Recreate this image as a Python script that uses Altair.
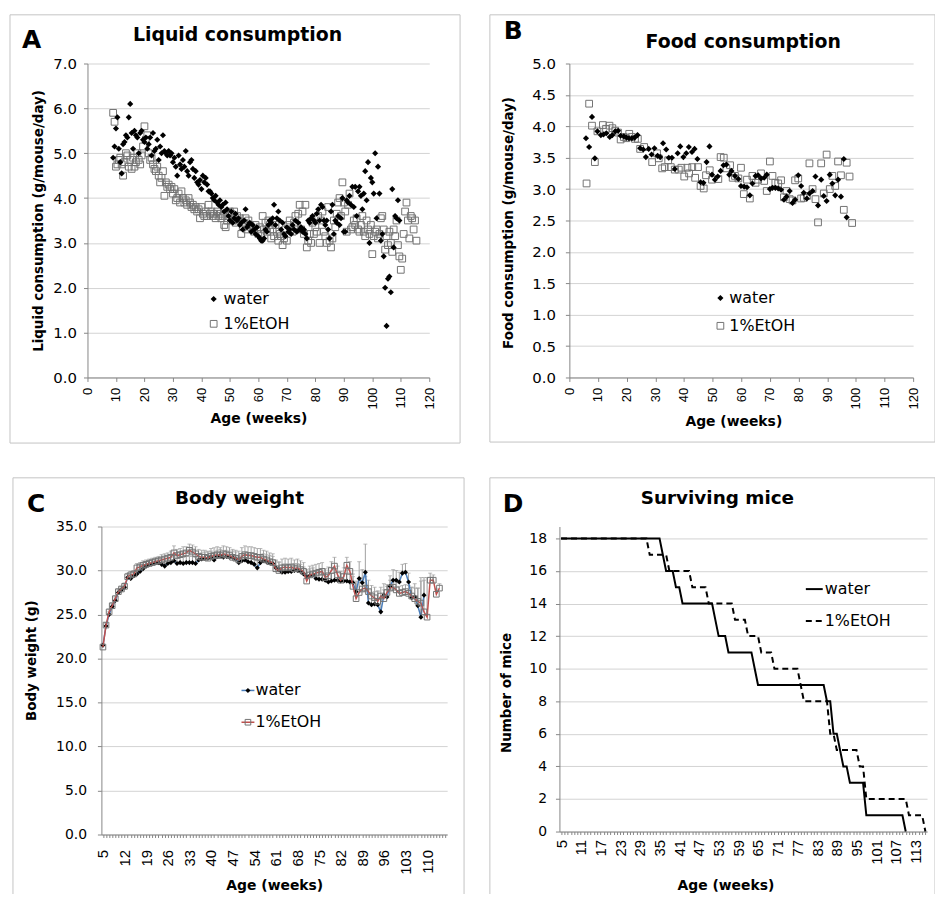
import altair as alt
import pandas as pd

FONT = "DejaVu Sans"
FONT_ROT = "Liberation Sans"
GRID = "#d3d3d3"
AXIS_C = "#868686"
FRAME = "#c4c4c4"

panel_letters = ["A", "B", "C", "D"]
panel_titles = ["Liquid consumption", "Food consumption", "Body weight", "Surviving mice"]
x_title = "Age (weeks)"
y_titles = ["Liquid consumption  (g/mouse/day)", "Food consumption (g/mouse/day)",
            "Body weight  (g)", "Number of mice"]
series_names = ["water", "1%EtOH"]

# ---------------- Panel A: liquid consumption (half-week readings) ----------------
a_start = 9.0
a_step = 0.5
a_water = [
    4.9, 5.15, 5.55, 5.8, 5.1, 4.8, 4.55, 5.2, 5.25, 5.4,
    5.35, 5.8, 6.1, 5.45, 5.1, 5.5, 5.4, 5.35, 5.0, 5.45,
    5.5, 5.3, 5.25, 5.35, 5.1, 5.2, 5.35, 4.95, 5.45, 5.05,
    5.1, 5.3, 4.85, 5.15, 5.0, 5.4, 5.05, 5.0, 4.95, 5.05,
    4.95, 5.0, 4.8, 4.9, 4.7, 4.5, 4.95, 4.75, 4.65, 4.85,
    4.7, 5.05, 4.6, 4.5, 4.8, 4.85, 4.65, 4.45, 4.6, 4.35,
    4.3, 4.4, 4.2, 4.5, 4.35, 4.45, 4.3, 4.15, 4.15, 4.1,
    4.0, 3.95, 4.05, 3.9, 3.85, 3.95, 3.8, 3.85, 3.7, 3.9,
    3.75, 3.6, 3.5, 3.7, 3.45, 3.55, 3.65, 3.5, 3.55, 3.4,
    3.45, 3.3, 3.5, 3.75, 3.35, 3.4, 3.45, 3.25, 3.4, 3.3,
    3.2, 3.35, 3.15, 3.1, 3.05, 3.05, 3.1, 3.3, 3.25, 3.4,
    3.5, 3.45, 3.55, 3.85, 3.4, 3.55, 3.7, 3.5, 3.3, 3.45,
    3.2, 3.15, 3.35, 3.25, 3.3, 3.2, 3.4, 3.3, 3.5, 3.25,
    3.45, 3.3, 3.35, 3.25, 3.3, 3.2, 3.1, 3.5, 3.45, 3.55,
    3.6, 3.5, 3.45, 3.65, 3.75, 3.5, 3.85, 3.8, 3.5, 3.4,
    3.5, 3.3, 3.1, 3.7, 3.85, 3.2, 3.5, 3.45, 3.6, 3.4,
    3.55, 4.0, 3.25, 3.25, 3.95, 3.9, 4.05, 3.85, 4.25, 3.8,
    4.25, 3.6, 4.15, 4.25, 4.05, 3.75, 4.1, 4.6, 3.95, 4.8,
    3.0, 4.45, 4.35, 4.1, 5.0, 3.55, 4.7, 4.1, 3.05, 3.2,
    2.7, 2.0, 1.15, 2.2, 2.25, 1.9, 4.2, 2.9, 3.6, 3.55,
    3.95, 3.5,
]
a_etoh = [
    5.9, 5.7, 4.7, 4.75, 4.85, 4.9, 4.75, 4.5, 4.8, 5.0,
    4.95, 4.7, 4.85, 4.65, 4.9, 4.7, 4.8, 5.0, 4.85, 4.75,
    4.95, 5.15, 5.6, 5.3, 5.4, 5.0, 4.85, 4.9, 4.75, 4.65,
    4.6, 4.7, 4.5, 4.35, 4.45, 4.6, 4.05, 4.35, 4.25, 4.3,
    4.2, 4.25, 4.1, 4.2, 3.95, 4.0, 4.1, 3.9, 4.15, 4.0,
    3.9, 3.95, 3.85, 4.0, 3.9, 3.8, 3.85, 3.75, 3.8, 3.7,
    3.75, 3.55, 3.8, 3.65, 3.6, 3.7, 3.6, 3.85, 3.65, 3.7,
    3.6, 3.65, 3.55, 3.7, 3.6, 3.65, 3.55, 3.6, 3.4, 3.35,
    3.5, 3.6, 3.7, 3.65, 3.5, 3.7, 3.45, 3.6, 3.5, 3.55,
    3.2, 3.35, 3.45, 3.55, 3.3, 3.5, 3.4, 3.35, 3.3, 3.25,
    3.4, 3.3, 3.2, 3.35, 3.2, 3.6, 3.3, 3.45, 3.25, 3.5,
    3.4, 3.1, 3.3, 3.15, 3.4, 3.25, 3.05, 3.2, 3.15, 2.95,
    3.1, 3.3, 3.05, 3.4, 3.5, 3.3, 3.25, 3.45, 3.6, 3.4,
    3.65, 3.85, 3.3, 3.7, 3.2, 3.85, 2.9, 3.05, 3.2, 3.0,
    3.45, 3.2, 3.35, 3.25, 3.6, 3.0, 3.5, 3.7, 3.25, 3.15,
    3.0, 3.8, 3.05, 2.9, 3.1, 3.5, 3.35, 3.65, 3.9, 4.0,
    3.6, 4.35, 3.9, 3.7, 3.25, 3.85, 4.1, 3.3, 3.35, 3.5,
    3.4, 3.55, 3.3, 3.25, 3.4, 3.6, 3.25, 3.15, 3.5, 3.3,
    3.2, 3.4, 2.75, 3.15, 3.25, 3.3, 3.1, 3.2, 3.55, 3.6,
    3.3, 2.85, 3.15, 2.95, 3.25, 3.0, 2.8, 3.3, 3.15, 3.5,
    2.95, 2.7, 2.4, 2.65, 3.2, 3.7, 3.9, 3.5, 3.1, 3.6,
    3.55, 3.3, 3.5, 3.05,
]

# ---------------- Panel B: food consumption ----------------
b_water_age = [
    5.8, 6.9, 7.9, 8.9, 9.8, 11.0, 11.9, 12.9, 14.1, 15.0,
    16.0, 17.0, 17.9, 19.0, 19.9, 20.8, 21.8, 22.8, 23.8, 24.7,
    25.8, 26.7, 27.7, 28.7, 29.7, 30.8, 31.7, 32.7, 33.8, 34.7,
    35.8, 36.8, 37.8, 38.7, 39.8, 40.8, 41.7, 42.8, 43.7, 44.7,
    45.8, 46.8, 47.9, 48.9, 49.8, 50.8, 51.8, 52.8, 53.8, 54.8,
    55.8, 56.6, 57.8, 59.0, 59.9, 61.0, 62.0, 63.0, 63.9, 65.0,
    65.9, 66.9, 68.0, 68.9, 70.0, 70.9, 71.9, 72.9, 73.9, 74.9,
    75.8, 76.9, 77.9, 78.8, 79.9, 80.9, 81.8, 82.9, 83.8, 84.9,
    85.9, 86.8, 87.9, 88.8, 89.8, 90.9, 91.8, 92.8, 93.8, 94.8,
    95.8, 96.8,
]
b_water = [
    3.81, 3.67, 4.15, 3.49, 3.92, 3.86, 3.87, 3.89, 3.83, 3.86,
    3.92, 3.93, 3.85, 3.84, 3.82, 3.81, 3.81, 3.82, 3.86, 3.65,
    3.63, 3.51, 3.64, 3.55, 3.65, 3.53, 3.51, 3.73, 3.63, 3.50,
    3.50, 3.32, 3.57, 3.68, 3.51, 3.57, 3.67, 3.59, 3.64, 3.48,
    3.11, 3.10, 3.43, 3.68, 3.23, 3.15, 3.20, 3.29, 3.38, 3.39,
    3.23, 3.29, 3.21, 3.16, 3.05, 3.04, 3.03, 2.90, 3.09, 3.21,
    3.22, 3.17, 3.18, 3.23, 3.00, 3.02, 3.02, 3.01, 2.99, 2.83,
    2.88, 2.97, 2.78, 2.83, 3.22, 3.05, 2.94, 2.85, 2.93, 2.97,
    3.20, 2.74, 3.15, 2.89, 2.81, 3.23, 3.09, 2.90, 3.15, 2.88,
    3.48, 2.55,
]
b_etoh_age = [
    6.0, 6.9, 7.9, 8.9, 9.8, 11.7, 12.8, 14.0, 15.0, 16.0,
    17.0, 17.9, 19.0, 19.9, 20.9, 21.8, 22.9, 23.9, 24.7, 26.1,
    28.9, 30.6, 31.2, 32.4, 33.3, 34.5, 35.4, 36.8, 38.2, 39.1,
    40.1, 41.2, 41.8, 42.9, 43.9, 44.9, 45.8, 46.9, 47.7, 49.0,
    49.8, 52.0, 52.8, 53.9, 54.8, 56.1, 57.0, 57.8, 59.0, 59.9,
    60.9, 62.0, 63.0, 63.9, 65.0, 65.9, 66.9, 68.0, 68.9, 70.0,
    70.9, 71.9, 72.9, 73.9, 74.9, 75.8, 76.9, 77.9, 78.8, 79.9,
    80.9, 81.8, 82.9, 83.8, 84.9, 85.9, 86.8, 87.9, 88.8, 89.8,
    90.9, 91.8, 92.8, 93.8, 94.8, 95.8, 96.8, 97.8, 98.7,
]
b_etoh = [
    3.09, 4.36, 4.01, 3.43, 3.92, 4.02, 3.96, 4.01, 3.97, 3.93,
    3.90, 3.79, 3.83, 3.81, 3.88, 3.83, 3.80, 3.80, 3.64, 3.67,
    3.43, 3.57, 3.49, 3.33, 3.35, 3.46, 3.35, 3.31, 3.31, 3.34,
    3.20, 3.34, 3.25, 3.35, 3.18, 3.35, 3.05, 3.01, 3.22, 3.30,
    3.15, 3.16, 3.51, 3.50, 3.33, 3.38, 3.18, 3.21, 3.17, 3.34,
    2.92, 3.15, 2.85, 3.21, 3.10, 3.15, 3.25, 3.13, 2.97, 3.44,
    3.21, 3.10, 3.09, 3.14, 2.87, 2.97, 2.84, 2.82, 3.14, 3.17,
    2.85, 2.86, 2.89, 3.41, 3.00, 2.84, 2.47, 3.41, 2.93, 3.55,
    3.00, 3.21, 3.05, 3.44, 3.22, 2.67, 3.42, 3.20, 2.46,
]

# ---------------- Panel C: body weight (weekly, from week 5) ----------------
c_first_week = 5
c_water = [
    21.5, 23.7, 25.0, 25.9, 26.6, 27.5, 27.8, 28.1, 29.2, 29.1,
    29.4, 29.6, 29.9, 30.2, 30.5, 30.7, 30.8, 30.9, 30.9, 30.7,
    30.5, 30.8, 30.9, 31.1, 30.8, 30.9, 30.8, 30.9, 30.9, 30.9,
    30.8, 31.2, 31.3, 31.4, 31.4, 31.5, 31.2, 31.6, 31.7, 31.5,
    31.6, 31.5, 31.5, 31.3, 30.9, 31.1, 31.2, 31.0, 30.9, 30.7,
    30.3, 30.9, 31.1, 31.0, 30.9, 30.8, 30.3, 30.1, 29.8, 29.8,
    29.9, 29.9, 30.0, 30.0, 29.9, 29.6, 29.3, 29.4, 29.5, 29.1,
    29.0, 29.0, 28.9, 28.7, 28.8, 28.9, 28.9, 28.8, 28.8, 28.8,
    28.7, 28.6, 27.6, 29.1, 28.6, 29.8, 26.3, 26.1, 26.2, 26.1,
    25.3, 27.2, 27.0, 28.2, 28.9, 28.9, 28.7, 29.7, 29.8, 28.7,
    26.9, 27.0, 26.0, 24.7, 27.2,
]
c_water_err = [
    0.2, 0.3, 0.3, 0.3, 0.3, 0.3, 0.3, 0.3, 0.4, 0.4,
    0.4, 0.4, 0.4, 0.5, 0.5, 0.5, 0.5, 0.5, 0.5, 0.6,
    0.6, 0.6, 0.6, 0.7, 0.7, 0.7, 0.7, 0.7, 0.7, 0.7,
    0.7, 0.7, 0.7, 0.7, 0.7, 0.7, 0.7, 0.7, 0.7, 0.7,
    0.7, 0.7, 0.7, 0.8, 0.8, 0.8, 0.8, 0.8, 0.8, 0.8,
    0.8, 0.8, 0.8, 0.8, 0.8, 0.8, 0.8, 0.8, 0.8, 0.8,
    0.8, 0.8, 0.8, 0.8, 0.8, 0.8, 0.8, 0.8, 0.8, 0.8,
    0.8, 0.8, 0.8, 0.9, 0.9, 0.9, 0.9, 0.9, 0.9, 0.9,
    1.0, 1.0, 1.2, 1.9, 1.5, 3.2, 1.5, 1.4, 1.4, 1.5,
    1.6, 1.3, 1.2, 1.2, 1.2, 1.1, 1.1, 1.0, 1.0, 1.0,
    1.2, 1.5, 2.0, 4.5, 2.0,
]
c_etoh = [
    21.3, 23.8, 25.3, 26.0, 26.8, 27.6, 27.9, 28.2, 29.3, 29.5,
    29.6, 30.3, 30.4, 30.6, 30.7, 30.8, 30.9, 31.0, 31.1, 31.2,
    31.3, 31.4, 31.5, 32.0, 31.7, 31.8, 31.9, 32.0, 32.3, 32.1,
    31.9, 31.6, 31.5, 31.5, 31.4, 31.6, 31.7, 31.8, 31.7, 31.9,
    31.8, 31.7, 31.5, 31.4, 31.2, 31.6, 31.8, 31.7, 31.7, 31.6,
    31.5, 31.5, 31.3, 31.2, 31.0, 30.9, 30.2, 30.0, 30.3, 30.4,
    30.3, 30.4, 30.2, 30.3, 30.1, 29.9, 28.8, 29.5, 29.6, 29.7,
    29.8, 29.9, 29.2, 29.4, 30.0, 30.5, 29.5, 28.9, 29.3, 30.6,
    29.9, 28.2, 26.8, 27.5, 27.9, 28.0, 27.6, 27.1, 26.9, 26.5,
    27.1, 26.8, 27.5, 28.0, 28.1, 27.8, 27.4, 27.5, 27.6, 27.4,
    27.1, 26.8, 26.5, 26.3, 25.3, 24.7, 28.9, 28.9, 27.3, 28.0,
]
c_etoh_err = [
    0.2, 0.3, 0.3, 0.3, 0.3, 0.3, 0.3, 0.4, 0.4, 0.4,
    0.4, 0.5, 0.5, 0.5, 0.5, 0.5, 0.5, 0.5, 0.5, 0.6,
    0.6, 0.6, 0.7, 0.8, 0.7, 0.7, 0.8, 0.7, 0.7, 0.8,
    0.8, 0.8, 0.8, 0.8, 0.8, 0.9, 0.9, 0.9, 0.9, 0.9,
    0.9, 0.9, 0.9, 0.9, 1.0, 1.0, 1.0, 1.0, 1.0, 1.0,
    1.0, 1.0, 1.0, 1.0, 1.0, 1.0, 1.0, 1.0, 1.0, 1.0,
    1.0, 1.0, 1.0, 1.0, 1.0, 1.0, 1.0, 1.0, 1.0, 1.0,
    1.0, 1.0, 1.0, 1.0, 1.0, 1.0, 1.0, 1.0, 1.0, 0.9,
    1.1, 1.1, 1.2, 1.2, 1.3, 1.3, 1.3, 1.2, 1.2, 1.2,
    1.0, 1.0, 0.9, 0.9, 0.9, 0.8, 0.8, 0.8, 0.8, 0.9,
    1.0, 1.2, 1.5, 2.5, 3.6, 4.5, 0.8, 0.6, 0.6, 0.5,
]

# ---------------- Panel D: surviving mice (weeks where the count changes) ----------------
d_water_age = [5, 35, 36, 37, 39, 40, 41, 42, 51, 52, 53, 55, 56, 63, 64, 65, 85, 86, 87,
               88, 89, 90, 91, 92, 93, 97, 98, 109, 110]
d_water = [18, 18, 17, 16, 16, 15, 15, 14, 14, 13, 12, 12, 11, 11, 10, 9, 9, 8, 8,
           6, 6, 5, 4, 4, 3, 3, 1, 1, 0]
d_etoh_age = [5, 31, 32, 37, 38, 44, 45, 49, 50, 57, 58, 61, 62, 65, 66, 69, 70, 77, 79,
              86, 87, 88, 89, 95, 96, 97, 98, 110, 111, 115, 116]
d_etoh = [18, 18, 17, 17, 16, 16, 15, 15, 14, 14, 13, 13, 12, 12, 11, 11, 10, 10, 8,
          8, 6, 6, 5, 5, 4, 4, 2, 2, 1, 1, 0]

# ---------------- data frames ----------------
df_a_w = pd.DataFrame({"age": [a_start + a_step * i for i in range(len(a_water))], "value": a_water})
df_a_e = pd.DataFrame({"age": [a_start + a_step * i for i in range(len(a_etoh))], "value": a_etoh})
df_b_w = pd.DataFrame({"age": b_water_age, "value": b_water})
df_b_e = pd.DataFrame({"age": b_etoh_age, "value": b_etoh})
df_c_w = pd.DataFrame({"age": [c_first_week + i for i in range(len(c_water))], "value": c_water,
                       "upper": [v + e for v, e in zip(c_water, c_water_err)]})
df_c_e = pd.DataFrame({"age": [c_first_week + i for i in range(len(c_etoh))], "value": c_etoh,
                       "upper": [v + e for v, e in zip(c_etoh, c_etoh_err)]})
df_d_w = pd.DataFrame({"age": d_water_age, "value": d_water})
df_d_e = pd.DataFrame({"age": d_etoh_age, "value": d_etoh})

one = pd.DataFrame({"k": [0]})


def text(label, x, y, size, bold=False, align="left", baseline="alphabetic"):
    return alt.Chart(pd.DataFrame({"label": [label]})).mark_text(
        font=FONT, fontSize=size, fontWeight="bold" if bold else "normal",
        align=align, baseline=baseline, color="black"
    ).encode(x=alt.value(x), y=alt.value(y), text="label:N")


def frame(x1, x2, y1, y2):
    return alt.Chart(one).mark_rect(fillOpacity=0, stroke=FRAME, strokeWidth=1).encode(
        x=alt.value(x1), x2=alt.value(x2), y=alt.value(y1), y2=alt.value(y2))


def hrule(x1, x2, y, color, width=1.5, dash=None):
    kw = dict(color=color, strokeWidth=width)
    if dash:
        kw["strokeDash"] = dash
    return alt.Chart(one).mark_rule(**kw).encode(x=alt.value(x1), x2=alt.value(x2), y=alt.value(y))


def marker(x, y, shape, size, filled, color):
    if filled:
        m = alt.Chart(one).mark_point(shape=shape, size=size, filled=True, color=color, opacity=1)
    else:
        m = alt.Chart(one).mark_point(shape=shape, size=size, filled=False, stroke=color,
                                      strokeWidth=1, opacity=1)
    return m.encode(x=alt.value(x), y=alt.value(y))


def x_axis(values, label_size, label_pad, tick_size, title_x, title_y, label_expr=None):
    kw = dict(values=values, title=x_title, grid=False, labelAngle=270, labelFont=FONT_ROT,
              labelFontSize=label_size, labelColor="black", labelPadding=label_pad,
              labelOverlap=False, labelFlush=False, ticks=True, tickSize=tick_size,
              tickColor=AXIS_C, domainColor=AXIS_C, titleFont=FONT, titleFontSize=14,
              titleFontWeight="bold", titleColor="black", titleX=title_x, titleY=title_y,
              titleAlign="center", titleBaseline="alphabetic", format="d")
    if label_expr:
        kw["labelExpr"] = label_expr
    return alt.Axis(**kw)


def y_axis(values, fmt, label_size, label_pad, title, title_x, title_y, offset=0):
    return alt.Axis(values=values, format=fmt, title=title, grid=True, gridColor=GRID,
                    domainColor=AXIS_C, tickColor=AXIS_C, tickSize=4, labelFont=FONT,
                    labelFontSize=label_size, labelColor="black", labelPadding=label_pad,
                    titleFont=FONT, titleFontSize=13.5, titleFontWeight="bold",
                    titleColor="black", titleAngle=270, titleAlign="center",
                    titleBaseline="middle", titleX=title_x, titleY=title_y, offset=offset)


SQ_COLOR = "#737373"
SQ_SIZE = 46
DIA_SIZE = 38

# ---------------- Panel A ----------------
xa = alt.X("age:Q", scale=alt.Scale(domain=[0, 120], nice=False, zero=False),
           axis=x_axis(list(range(0, 121, 10)), 13, 6, 4, 172, 45))
ya = alt.Y("value:Q", scale=alt.Scale(domain=[0, 7], nice=False),
           axis=y_axis([0, 1, 2, 3, 4, 5, 6, 7], ".1f", 15, 7, y_titles[0], -49.5, 158))
panel_a = alt.layer(
    frame(-78, 375, -49, 382),
    alt.Chart(df_a_e).mark_point(shape="square", size=SQ_SIZE, filled=False, stroke=SQ_COLOR,
                                 strokeWidth=1, opacity=1).encode(x=xa, y=ya),
    alt.Chart(df_a_w).mark_point(shape="diamond", size=DIA_SIZE, filled=True, color="black",
                                 opacity=1).encode(x=xa, y=ya),
    text(panel_letters[0], -66, -16, 25, bold=True),
    text(panel_titles[0], 151, -23, 19, bold=True, align="center"),
    marker(127, 237, "diamond", DIA_SIZE, True, "black"),
    marker(127, 262, "square", SQ_SIZE, False, SQ_COLOR),
    text(series_names[0], 137, 237, 16, baseline="middle"),
    text(series_names[1], 137, 262, 16, baseline="middle"),
).properties(width=344, height=316)

# ---------------- Panel B (view starts 10px left of its y axis) ----------------
xb = alt.X("age:Q", scale=alt.Scale(domain=[0, 120], range=[10, 356], nice=False, zero=False),
           axis=x_axis(list(range(0, 121, 10)), 13, 6, 4, 175, 48))
yb = alt.Y("value:Q", scale=alt.Scale(domain=[0, 5], nice=False),
           axis=y_axis([0, 0.5, 1, 1.5, 2, 2.5, 3, 3.5, 4, 4.5, 5], ".1f", 15, 10,
                       y_titles[1], -61, 160, offset=-10))
panel_b = alt.layer(
    frame(-70, 378, -49, 381),
    alt.Chart(df_b_e).mark_point(shape="square", size=SQ_SIZE, filled=False, stroke=SQ_COLOR,
                                 strokeWidth=1, opacity=1).encode(x=xb, y=yb),
    alt.Chart(df_b_w).mark_point(shape="diamond", size=DIA_SIZE, filled=True, color="black",
                                 opacity=1).encode(x=xb, y=yb),
    text(panel_letters[1], -56, -25, 25, bold=True),
    text(panel_titles[1], 185, -16, 19, bold=True, align="center"),
    marker(162, 236, "diamond", DIA_SIZE, True, "black"),
    marker(162, 264, "square", SQ_SIZE, False, SQ_COLOR),
    text(series_names[0], 171, 236, 16, baseline="middle"),
    text(series_names[1], 171, 264, 16, baseline="middle"),
).properties(width=356, height=316)

# ---------------- Panel C (view starts 14px left of its y axis) ----------------
weeks_all = list(range(5, 117))
xc = alt.X("age:Q", scale=alt.Scale(domain=[4.5, 116.5], range=[14, 362], nice=False, zero=False),
           axis=x_axis(weeks_all, 15, 12, 3, 188, 55,
                       label_expr="(datum.value - 5) % 7 == 0 ? datum.label : ''"))
yc = alt.Y("value:Q", scale=alt.Scale(domain=[0, 35], nice=False),
           axis=y_axis([0, 5, 10, 15, 20, 25, 30, 35], ".1f", 14, 11, y_titles[2], -70, 134.5,
                       offset=-14))
BLUE = "#4a7ebb"
RED = "#c0504d"
ERR = "#a0a0a0"
panel_c = alt.layer(
    frame(-75, 379, -49, 380),
    alt.Chart(df_c_w).mark_rule(color=ERR, strokeWidth=1).encode(x=xc, y=yc, y2="upper:Q"),
    alt.Chart(df_c_e).mark_rule(color=ERR, strokeWidth=1).encode(x=xc, y=yc, y2="upper:Q"),
    alt.Chart(df_c_w).mark_tick(orient="horizontal", size=4, thickness=1, color=ERR).encode(
        x=xc, y=alt.Y("upper:Q")),
    alt.Chart(df_c_e).mark_tick(orient="horizontal", size=4, thickness=1, color=ERR).encode(
        x=xc, y=alt.Y("upper:Q")),
    alt.Chart(df_c_w).mark_line(color=BLUE, strokeWidth=1.5).encode(x=xc, y=yc),
    alt.Chart(df_c_w).mark_point(shape="diamond", size=26, filled=True, color="black",
                                 opacity=1).encode(x=xc, y=yc),
    alt.Chart(df_c_e).mark_line(color=RED, strokeWidth=1.5).encode(x=xc, y=yc),
    alt.Chart(df_c_e).mark_point(shape="square", size=32, filled=False, stroke=SQ_COLOR,
                                 strokeWidth=1, opacity=1).encode(x=xc, y=yc),
    text(panel_letters[2], -61, -15, 25, bold=True),
    text(panel_titles[2], 153, -23, 18.5, bold=True, align="center"),
    hrule(155, 168, 165, BLUE),
    marker(161.5, 165, "diamond", 26, True, "black"),
    hrule(155, 168, 197, RED),
    marker(161.5, 197, "square", 32, False, SQ_COLOR),
    text(series_names[0], 169, 165, 16, baseline="middle"),
    text(series_names[1], 169, 197, 16, baseline="middle"),
).properties(width=362, height=310)

# ---------------- Panel D ----------------
xd = alt.X("age:Q", scale=alt.Scale(domain=[4.5, 116.5], nice=False, zero=False),
           axis=x_axis(weeks_all, 15, 5, 3, 167, 58,
                       label_expr="(datum.value - 5) % 6 == 0 ? datum.label : ''"))
yd = alt.Y("value:Q", scale=alt.Scale(domain=[0, 18.73], nice=False),
           axis=y_axis(list(range(0, 19, 2)), "d", 14, 9, y_titles[3], -53.7, 167))
panel_d = alt.layer(
    frame(-70, 378, -49, 380),
    alt.Chart(df_d_e).mark_line(color="black", strokeWidth=2, strokeDash=[6, 4]).encode(x=xd, y=yd),
    alt.Chart(df_d_w).mark_line(color="black", strokeWidth=2).encode(x=xd, y=yd),
    text(panel_letters[3], -57, -15, 25, bold=True),
    text(panel_titles[3], 159, -23, 18.5, bold=True, align="center"),
    hrule(248, 265, 63, "black", 2),
    hrule(248, 265, 95, "black", 2, dash=[6, 4]),
    text(series_names[0], 267, 63, 16, baseline="middle"),
    text(series_names[1], 267, 95, 16, baseline="middle"),
).properties(width=370, height=307)

chart = alt.concat(panel_a, panel_b, panel_c, panel_d, columns=2,
                   spacing={"row": 150, "column": 113}, bounds="flush").properties(
    autosize=alt.AutoSizeParams(type="none"),
    padding={"left": 80, "top": 53, "right": 853, "bottom": 833},
    background="white",
).configure_view(stroke=None)

chart.save("out.html", embed_options={"renderer": "svg", "actions": False})
